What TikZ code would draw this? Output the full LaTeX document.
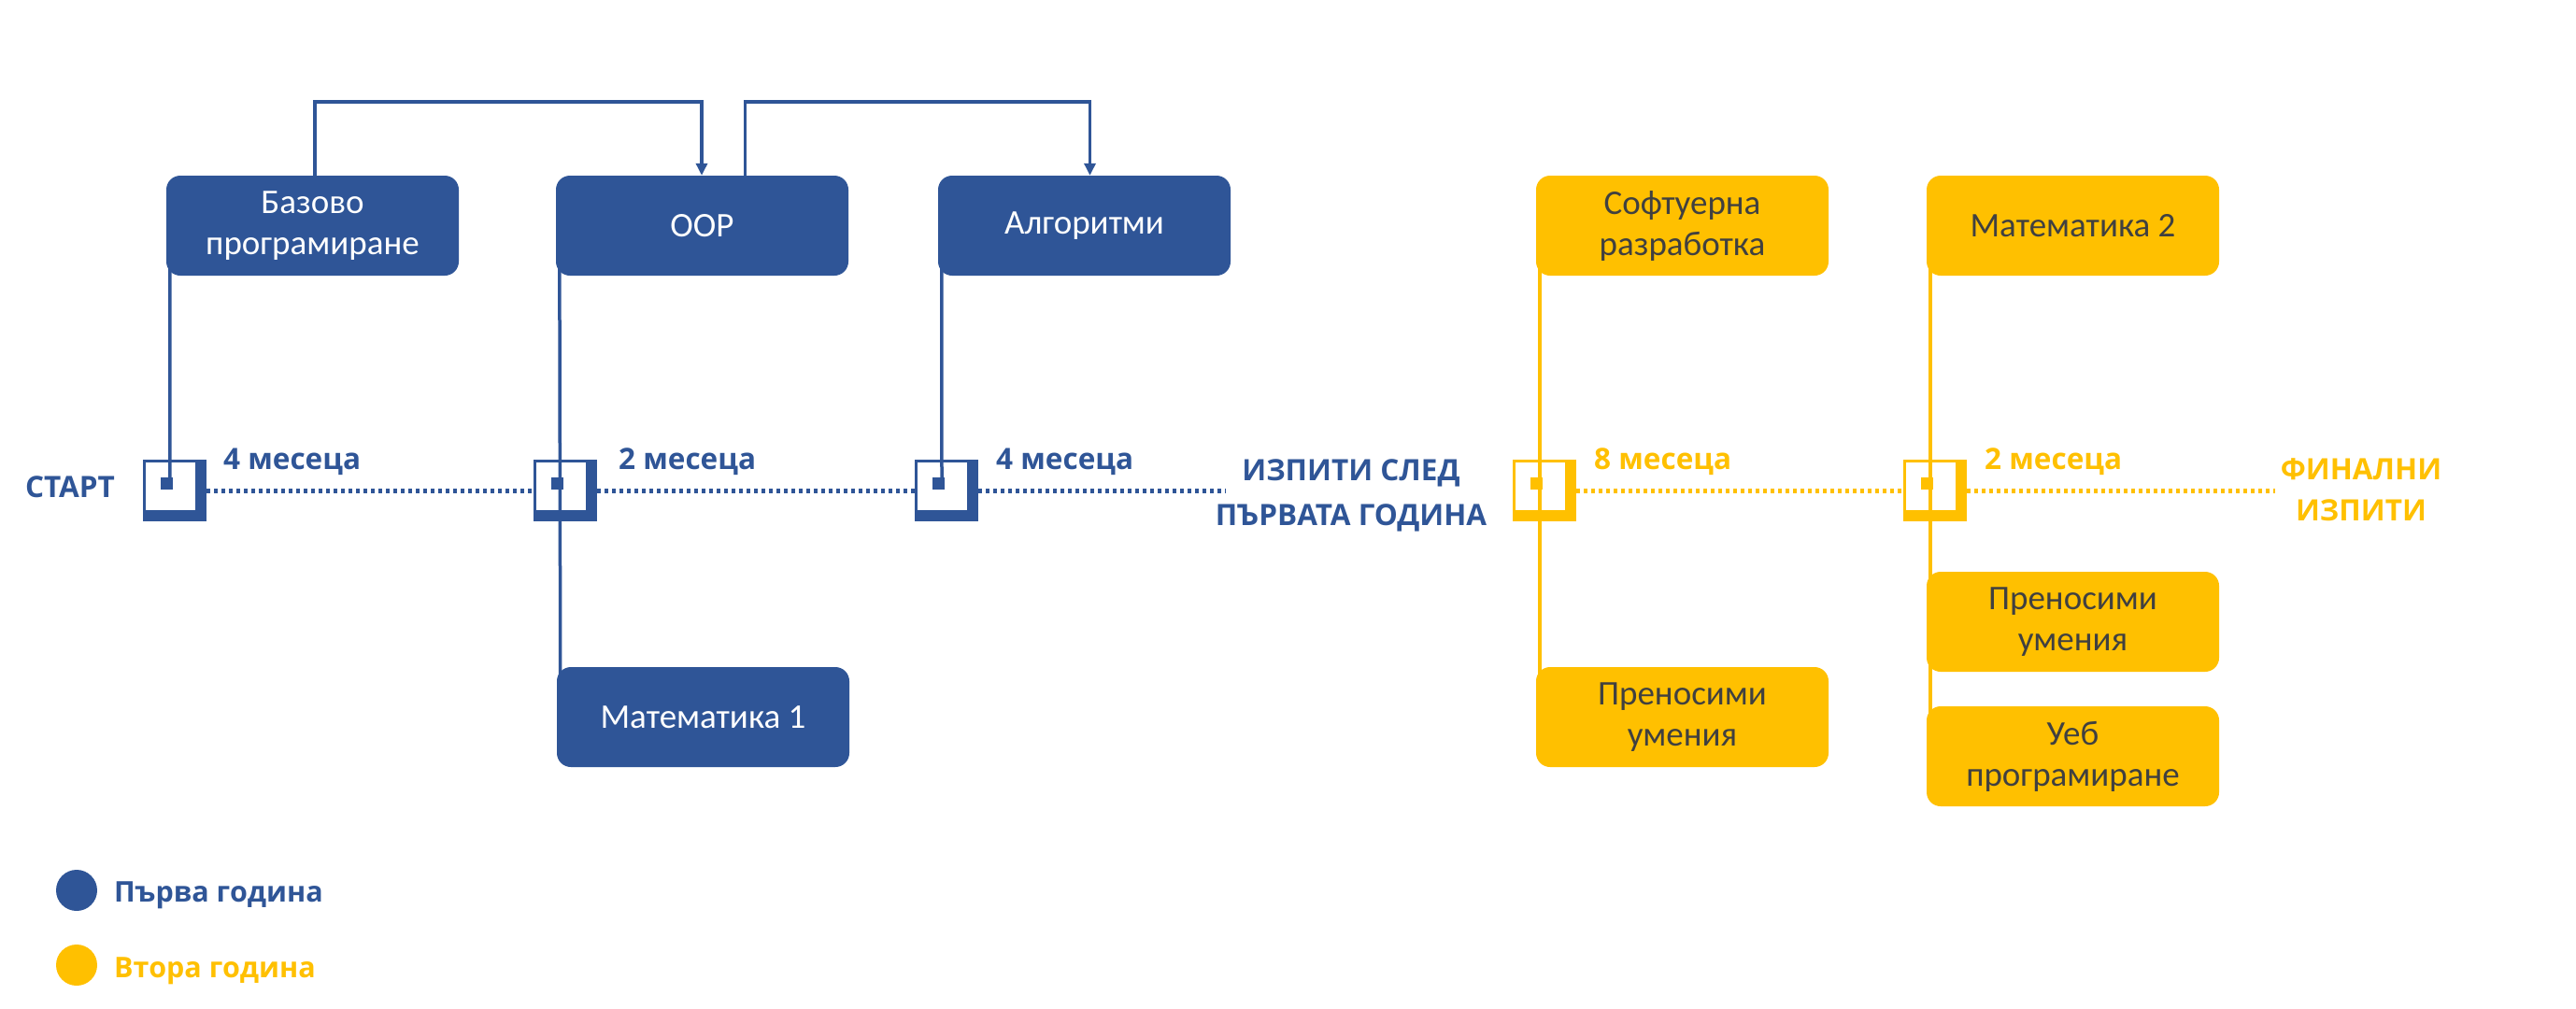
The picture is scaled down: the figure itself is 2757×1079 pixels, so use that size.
\documentclass[tikz,border=0pt]{standalone}
\usepackage{fontspec}
\setmainfont{Carlito}
\newfontfamily\labfont{Open Sans}
\usetikzlibrary{arrows.meta,calc}
\definecolor{cblue}{HTML}{2F5597}
\definecolor{cyel}{HTML}{FFC000}
\definecolor{ctext}{HTML}{404040}
\pgfdeclarelayer{marks}
\pgfdeclarelayer{lines}
\pgfsetlayers{marks,lines,main}
\tikzset{
  box/.style={rectangle, rounded corners=15pt, minimum width=313pt, minimum height=107pt,
    inner sep=0pt, align=center, font=\fontsize{37}{44}\selectfont},
  bbox/.style={box, fill=cblue, text=white},
  ybox/.style={box, fill=cyel, text=ctext},
  conn/.style={line width=3.5pt},
  tline/.style={line width=5pt, dash pattern=on 4pt off 4pt},
  lab/.style={font=\labfont\bfseries\fontsize{31.5}{37}\selectfont, anchor=base, inner sep=0pt},
  leg/.style={font=\labfont\bfseries\fontsize{30.5}{36}\selectfont, anchor=base west, inner sep=0pt},
  dotmark/.style={circle, minimum size=44pt, inner sep=0pt},
}
\newcommand\milestone[2]{%
  \begin{scope}[shift={(#1)}]
    \fill[#2] (-29,-25.5) rectangle (39,40.5);
    \fill[white] (-26,-22.5) rectangle (27,28.5);
    \fill[#2] (-10,-6.5) rectangle (3,6.5);
  \end{scope}}
\begin{document}
\begin{tikzpicture}[x=1pt,y=-1pt]
\useasboundingbox (0,0) rectangle (2757,1079);
% boxes
\node[bbox] (bp)  at (334.5,241.5) {Базово\\програмиране};
\node[bbox] (oop) at (751.5,241.5) {OOP};
\node[bbox] (alg) at (1160.5,241.5) {Алгоритми};
\node[bbox] (ma1) at (752.5,767.5) {Математика 1};
\node[ybox] (sw)  at (1800.5,241.5) {Софтуерна\\разработка};
\node[ybox] (ma2) at (2218.5,241.5) {Математика 2};
\node[ybox] (ps1) at (1800.5,767.5) {Преносими\\умения};
\node[ybox] (ps2) at (2218.5,665.5) {Преносими\\умения};
\node[ybox] (web) at (2218.5,809.5) {Уеб\\програмиране};
% milestone points
\coordinate (m1) at (182,517.5);
\coordinate (m2) at (600,517.5);
\coordinate (m3) at (1008,517.5);
\coordinate (m4) at (1648,517.5);
\coordinate (m5) at (2066,517.5);
\coordinate (e1) at (1312,525);
\coordinate (e2) at (2435,525);
% labels
\node[lab, text=cblue] (start) at (75,532) {СТАРТ};
\node[lab, text=cblue, anchor=base west] (t1) at (239,502) {4 месеца};
\node[lab, text=cblue, anchor=base west] (t2) at (662,502) {2 месеца};
\node[lab, text=cblue, anchor=base west] (t3) at (1066,502) {4 месеца};
\node[lab, text=cyel, anchor=base west] (t4) at (1706,502) {8 месеца};
\node[lab, text=cyel, anchor=base west] (t5) at (2124,502) {2 месеца};
\node[lab, text=cblue] (ex1) at (1446,514) {ИЗПИТИ СЛЕД};
\node[lab, text=cblue] (ex2) at (1446,562) {ПЪРВАТА ГОДИНА};
\node[lab, text=cyel] (fe1) at (2527,513) {ФИНАЛНИ};
\node[lab, text=cyel] (fe2) at (2527,557) {ИЗПИТИ};
% legend
\node[dotmark, fill=cblue] (lg1) at (82,953) {};
\node[dotmark, fill=cyel] (lg2) at (82,1033) {};
\node[leg, text=cblue] (lt1) at (122,965) {Първа година};
\node[leg, text=cyel] (lt2) at (122,1046) {Втора година};
% prerequisite arrows
\draw[conn, cblue, -{Triangle[width=12pt,length=13pt]}]
  ([xshift=2.5pt]bp.north) -- ++(0,-79) -| ([xshift=-0.5pt]oop.north);
\draw[conn, cblue, -{Triangle[width=12pt,length=13pt]}]
  ([xshift=46pt]oop.north) -- ++(0,-79) -| ([xshift=6pt]alg.north);
% timeline
\begin{pgfonlayer}{marks}
  \fill[white] (0,0) rectangle (2757,1079);
  \milestone{m1}{cblue}
  \milestone{m2}{cblue}
  \milestone{m3}{cblue}
  \milestone{m4}{cyel}
  \milestone{m5}{cyel}
  \draw[tline, cblue] ($(m1)+(39,7.5)$) -- ($(m2)+(-29,7.5)$);
  \draw[tline, cblue] ($(m2)+(39,7.5)$) -- ($(m3)+(-29,7.5)$);
  \draw[tline, cblue] ($(m3)+(39,7.5)$) -- (e1);
  \draw[tline, cyel] ($(m4)+(39,7.5)$) -- ($(m5)+(-29,7.5)$);
  \draw[tline, cyel] ($(m5)+(39,7.5)$) -- (e2);
\end{pgfonlayer}
\begin{pgfonlayer}{lines}
  \draw[conn, cblue] ([xshift=4pt]bp.west) -- (m1);
  \draw[conn, cblue] ([xshift=4pt]oop.west) -- ([xshift=4pt]ma1.west);
  \draw[conn, cblue] ([xshift=4pt]alg.west) -- (m3);
  \draw[conn, cyel] ([xshift=4pt]sw.west) -- ([xshift=4pt]ps1.west);
  \draw[conn, cyel] ([xshift=4pt]ma2.west) -- ([xshift=4pt]web.west);
\end{pgfonlayer}
\end{tikzpicture}
\end{document}
